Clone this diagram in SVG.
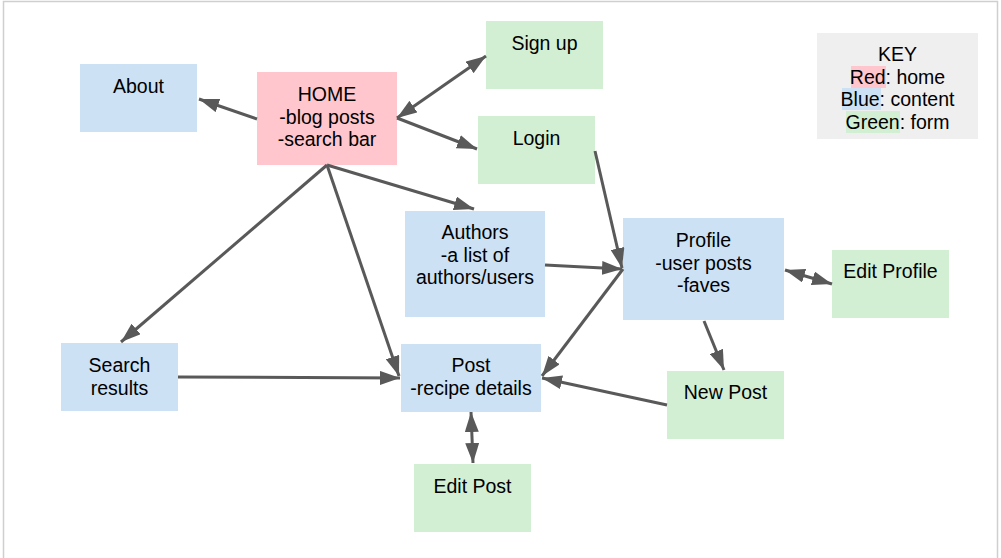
<svg xmlns="http://www.w3.org/2000/svg" width="1001" height="558" viewBox="0 0 1001 558">
<style>
.n rect{stroke:none}
.home{fill:#ffc7cd}
.blue{fill:#cce1f4}
.green{fill:#d2efd4}
.key{fill:#efefef}
text{font-family:"Liberation Sans",Arial,sans-serif;font-size:19.5px;fill:#000;text-anchor:middle}
.c line{stroke:#595959;stroke-width:3;fill:none}
</style>
<defs>
<marker id="ah" viewBox="0 0 20 14" refX="20" refY="7" markerWidth="20" markerHeight="14" markerUnits="userSpaceOnUse" orient="auto-start-reverse">
<path d="M0,0 L20,7 L0,14 z" fill="#595959"/>
</marker>
</defs>
<rect x="0" y="0" width="1001" height="558" fill="#fff"/>
<rect x="3.5" y="1.5" width="994" height="570" fill="none" stroke="#cfcfcf" stroke-width="1.5"/>

<g id="about" class="n"><rect class="blue" x="80" y="64" width="117" height="68"/><text x="138.5" y="93">About</text></g>
<g id="home" class="n"><rect class="home" x="257" y="72" width="140" height="93"/><text x="327" y="101">HOME<tspan x="327" dy="22.7">-blog posts</tspan><tspan x="327" dy="22.7">-search bar</tspan></text></g>
<g id="signup" class="n"><rect class="green" x="486" y="21" width="117" height="68"/><text x="544.5" y="50">Sign up</text></g>
<g id="login" class="n"><rect class="green" x="478" y="116" width="117" height="68"/><text x="536.5" y="145">Login</text></g>
<g id="authors" class="n"><rect class="blue" x="405" y="211" width="140" height="106"/><text x="475" y="239">Authors<tspan x="475" dy="22.7">-a list of</tspan><tspan x="475" dy="22.7">authors/users</tspan></text></g>
<g id="profile" class="n"><rect class="blue" x="623" y="218" width="161" height="102"/><text x="703.5" y="247">Profile<tspan x="703.5" dy="22.7">-user posts</tspan><tspan x="703.5" dy="22.7">-faves</tspan></text></g>
<g id="editprofile" class="n"><rect class="green" x="832" y="250" width="117" height="68"/><text x="890.5" y="278">Edit Profile</text></g>
<g id="search" class="n"><rect class="blue" x="61" y="343" width="117" height="68"/><text x="119.5" y="372">Search<tspan x="119.5" dy="22.7">results</tspan></text></g>
<g id="post" class="n"><rect class="blue" x="401" y="344" width="140" height="68"/><text x="471" y="372">Post<tspan x="471" dy="22.7">-recipe details</tspan></text></g>
<g id="newpost" class="n"><rect class="green" x="667" y="371" width="117" height="68"/><text x="725.5" y="399">New Post</text></g>
<g id="editpost" class="n"><rect class="green" x="414" y="464" width="117" height="68"/><text x="472.5" y="493">Edit Post</text></g>

<g id="key" class="n">
<rect class="key" x="817" y="33" width="161" height="106"/>
<rect class="home" x="851" y="66" width="35" height="22"/>
<rect class="blue" x="842" y="88" width="39" height="22"/>
<rect class="green" x="846" y="111" width="54" height="22"/>
<text x="897.5" y="61">KEY<tspan x="897.5" dy="22.7">Red: home</tspan><tspan x="897.5" dy="22.7">Blue: content</tspan><tspan x="897.5" dy="22.7">Green: form</tspan></text>
</g>

<g id="connectors" class="c">
<line x1="257" y1="119" x2="199" y2="99" marker-end="url(#ah)"/>
<line x1="397" y1="118" x2="486" y2="56" marker-start="url(#ah)" marker-end="url(#ah)"/>
<line x1="397" y1="118" x2="477" y2="149" marker-end="url(#ah)"/>
<line x1="327" y1="165" x2="474" y2="209" marker-end="url(#ah)"/>
<line x1="327" y1="165" x2="121" y2="342" marker-end="url(#ah)"/>
<line x1="327" y1="165" x2="399" y2="376" marker-end="url(#ah)"/>
<line x1="595" y1="151" x2="622" y2="268" marker-end="url(#ah)"/>
<line x1="545" y1="265" x2="622" y2="269" marker-end="url(#ah)"/>
<line x1="623" y1="269" x2="542" y2="376" marker-end="url(#ah)"/>
<line x1="785" y1="270" x2="832" y2="284" marker-start="url(#ah)" marker-end="url(#ah)"/>
<line x1="704" y1="321" x2="724" y2="370" marker-end="url(#ah)"/>
<line x1="667" y1="405" x2="542" y2="378" marker-end="url(#ah)"/>
<line x1="178" y1="377" x2="400" y2="378" marker-end="url(#ah)"/>
<line x1="471" y1="412" x2="473" y2="463" marker-start="url(#ah)" marker-end="url(#ah)"/>
</g>
</svg>
